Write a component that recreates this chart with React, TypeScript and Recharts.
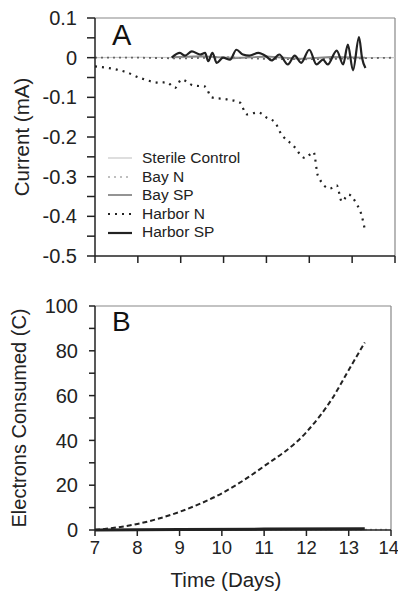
import React from "react";
import {
  LineChart,
  Line,
  XAxis,
  YAxis,
  ReferenceLine,
} from "recharts";

// Panel A: current (mA) vs time (days)
const harborNDays = [7, 7.74, 8.05, 8.52, 8.67, 8.87, 9.02, 9.29, 9.57, 9.72, 10.07, 10.38, 10.54, 10.81, 11.0, 11.2, 11.32, 11.63, 11.9, 12.1, 12.2, 12.48, 12.64, 12.76, 12.91, 13.1, 13.22, 13.3];
const harborNCurrent = [-0.022, -0.037, -0.051, -0.063, -0.062, -0.076, -0.055, -0.07, -0.073, -0.1, -0.105, -0.113, -0.143, -0.138, -0.151, -0.163, -0.188, -0.222, -0.253, -0.238, -0.297, -0.33, -0.322, -0.363, -0.345, -0.368, -0.397, -0.435];

const harborSPDays = [8.79, 8.98, 9.1, 9.26, 9.45, 9.57, 9.64, 9.74, 9.84, 9.99, 10.15, 10.3, 10.45, 10.6, 10.81, 11.0, 11.12, 11.3, 11.5, 11.66, 11.81, 12.0, 12.17, 12.32, 12.43, 12.64, 12.79, 12.9, 13.02, 13.16, 13.23, 13.31];
const harborSPCurrent = [0, 0.012, 0.005, 0.016, 0.008, 0.012, -0.009, 0.012, -0.013, 0, -0.005, 0.02, 0.008, 0.005, 0.012, 0.003, -0.007, 0.008, -0.017, 0.005, -0.013, 0.02, -0.017, -0.005, -0.017, 0.018, -0.017, 0.033, -0.032, 0.052, 0, -0.026];

const bayNDays = [7, 8, 9, 10, 11, 12, 13, 14];
const bayNCurrent = [0, 0, -0.002, 0.001, -0.003, -0.004, -0.002, 0];

const baySPDays = [8.8, 9.5, 10.2, 11, 11.8, 12.5, 13.3];
const baySPCurrent = [0.001, 0.004, -0.002, 0.003, -0.003, 0.002, 0];

const sterileDays = [7, 8, 9, 10, 11, 12, 13, 14];
const sterileCurrent = [0, 0.001, 0, 0.002, 0, -0.002, 0, 0];

// Panel B: cumulative electrons consumed (C)
const harborNDaysB = [7, 8, 9, 10.02, 10.97, 12, 12.63, 12.99, 13.38];
const harborNCharge = [0, 2.7, 8.1, 16.6, 28.1, 43.7, 59.3, 71.1, 83.7];
const harborSPDaysB = [7, 9, 11, 13.38];
const harborSPCharge = [0, 0.2, 0.4, 0.6];
const otherDaysB = [7, 10, 14];
const otherCharge = [0, 0.1, 0.2];

const dayTicks = [7, 8, 9, 10, 11, 12, 13, 14];
const currentTicks = [0.1, 0.05, 0, -0.05, -0.1, -0.15, -0.2, -0.25, -0.3, -0.35, -0.4, -0.45, -0.5];
const chargeTicks = [0, 10, 20, 30, 40, 50, 60, 70, 80, 90, 100];

const zip = (xs: number[], ys: number[]) => xs.map((x, i) => ({ day: x, v: ys[i] }));

const font = "'Liberation Sans', Arial, sans-serif";
const xTickStyle = { fontSize: 18.5, fill: "#222", fontFamily: font };
const yTickStyle = { fontSize: 20, fill: "#222", fontFamily: font };
const titleStyle = { textAnchor: "middle", fontSize: 20.5, fill: "#222", fontFamily: font };

const legendItems = [
  { name: "Sterile Control", stroke: "#c8c8c8", dash: undefined, width: 1.2 },
  { name: "Bay N", stroke: "#aaa", dash: "2 4", width: 1.5 },
  { name: "Bay SP", stroke: "#888", dash: undefined, width: 1.8 },
  { name: "Harbor N", stroke: "#222", dash: "2 5", width: 2.2 },
  { name: "Harbor SP", stroke: "#222", dash: undefined, width: 2.2 },
];

function LegendBox() {
  return (
    <div style={{ fontFamily: font, fontSize: 15.5, color: "#222", lineHeight: "18.6px" }}>
      {legendItems.map((it) => (
        <div key={it.name} style={{ display: "flex", alignItems: "center", height: 18.6 }}>
          <svg width={36} height={10}>
            <line x1={2} x2={26} y1={5} y2={5} stroke={it.stroke} strokeWidth={it.width} strokeDasharray={it.dash} />
          </svg>
          <span>{it.name}</span>
        </div>
      ))}
    </div>
  );
}

const fmtCurrent = (v: number) =>
  Math.abs(v * 10 - Math.round(v * 10)) < 1e-6 ? String(Math.round(v * 10) / 10) : "";
const fmtCharge = (v: number) => (v % 20 === 0 ? String(v) : "");

export default function App() {
  return (
    <div style={{ position: "absolute", left: 0, top: 0, width: 398, height: 591, background: "#fff" }}>
      <div style={{ position: "absolute", left: 0, top: 0 }}>
        <LineChart width={398} height={286} margin={{ top: 18, right: 3, left: 0, bottom: 0 }}>
          <XAxis
            dataKey="day"
            type="number"
            domain={[7, 14]}
            ticks={dayTicks}
            tickFormatter={() => ""}
            height={30}
            tickSize={7}
            stroke="#222"
            strokeWidth={1.5}
            allowDuplicatedCategory={false}
          />
          <YAxis
            type="number"
            domain={[-0.5, 0.1]}
            ticks={currentTicks}
            tickFormatter={fmtCurrent}
            interval={0}
            width={95}
            tickSize={8}
            tickMargin={10}
            tick={yTickStyle}
            stroke="#222"
            strokeWidth={1.5}
            label={{
              value: "Current (mA)",
              angle: -90,
              position: "insideLeft",
              offset: 22,
              style: titleStyle,
            }}
          />
          <ReferenceLine y={0.1} stroke="#888" strokeWidth={1.2} />
          <ReferenceLine x={14} stroke="#888" strokeWidth={1.2} />
          <Line data={zip(sterileDays, sterileCurrent)} dataKey="v" name="Sterile Control" stroke="#c8c8c8" strokeWidth={1.2} dot={false} isAnimationActive={false} />
          <Line data={zip(bayNDays, bayNCurrent)} dataKey="v" name="Bay N" stroke="#666" strokeDasharray="2 4" strokeWidth={1.8} dot={false} isAnimationActive={false} />
          <Line data={zip(baySPDays, baySPCurrent)} dataKey="v" name="Bay SP" stroke="#888" strokeWidth={1.8} dot={false} isAnimationActive={false} />
          <Line data={zip(harborNDays, harborNCurrent)} dataKey="v" name="Harbor N" type="monotone" stroke="#222" strokeDasharray="2 5" strokeWidth={2.2} dot={false} isAnimationActive={false} />
          <Line data={zip(harborSPDays, harborSPCurrent)} dataKey="v" name="Harbor SP" type="monotone" stroke="#222" strokeWidth={2.2} dot={false} isAnimationActive={false} />
        </LineChart>
        <div style={{ position: "absolute", left: 106, top: 149 }}>
          <LegendBox />
        </div>
        <div style={{ position: "absolute", left: 112, top: 19, fontFamily: font, fontSize: 29, color: "#111" }}>A</div>
      </div>

      <div style={{ position: "absolute", left: 0, top: 290 }}>
        <LineChart width={398} height={301} margin={{ top: 16, right: 7, left: 0, bottom: 0 }}>
          <XAxis
            dataKey="day"
            type="number"
            domain={[7, 14]}
            ticks={dayTicks}
            height={61}
            tickSize={6}
            tickMargin={5}
            tick={xTickStyle}
            stroke="#222"
            strokeWidth={1.5}
            allowDuplicatedCategory={false}
            label={{
              value: "Time (Days)",
              position: "insideBottom",
              offset: 4,
              dx: -17,
              style: titleStyle,
            }}
          />
          <YAxis
            type="number"
            domain={[0, 100]}
            ticks={chargeTicks}
            tickFormatter={fmtCharge}
            interval={0}
            width={95}
            tickSize={6}
            tickMargin={11}
            tick={yTickStyle}
            stroke="#222"
            strokeWidth={1.5}
            label={{
              value: "Electrons Consumed (C)",
              angle: -90,
              position: "insideLeft",
              offset: 19,
              style: { ...titleStyle, fontSize: 20 },
            }}
          />
          <ReferenceLine y={100} stroke="#888" strokeWidth={1.2} />
          <ReferenceLine x={14} stroke="#888" strokeWidth={1.2} />
          <Line data={zip(otherDaysB, otherCharge)} dataKey="v" name="Bay N" stroke="#aaa" strokeDasharray="2 3" strokeWidth={1.8} dot={false} isAnimationActive={false} />
          <Line data={zip(harborSPDaysB, harborSPCharge)} dataKey="v" name="Harbor SP" stroke="#222" strokeWidth={3} dot={false} isAnimationActive={false} />
          <Line data={zip(harborNDaysB, harborNCharge)} dataKey="v" name="Harbor N" type="monotone" stroke="#222" strokeDasharray="5 3" strokeWidth={2} dot={false} isAnimationActive={false} />
        </LineChart>
        <div style={{ position: "absolute", left: 112, top: 16, fontFamily: font, fontSize: 28, color: "#111" }}>B</div>
      </div>
    </div>
  );
}
